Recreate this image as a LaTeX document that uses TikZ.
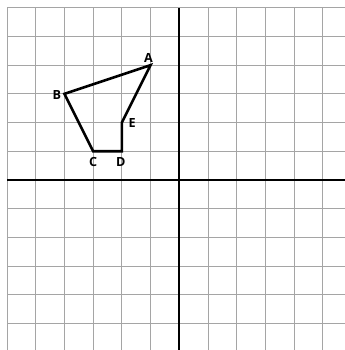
\documentclass[tikz,border=0pt]{standalone}
\usepackage{fontspec}
\setsansfont{Open Sans}
\usetikzlibrary{positioning}
\definecolor{cGrid}{RGB}{165,165,165}
\tikzset{
	gridline/.style ={draw=cGrid, line width=0.7pt},
	axisline/.style ={draw=black, line width=1.6pt},
	polyline/.style ={draw=black, line width=2.6pt, line join=miter},
	ptlabel/.style  ={inner sep=1.5pt, font=\fontsize{12.5}{14}\selectfont\sffamily\bfseries},
}
\begin{document}
\begin{tikzpicture}
			\useasboundingbox (-6.245,-5.925) rectangle (5.775,6.27);
			% grid and axes
			\foreach \k in {-6,...,5} {
				\draw[gridline] (\k,6) -- (\k,-5.925);
			}
			\foreach \k in {-5,...,6} {
				\draw[gridline] (-6,\k) -- (5.775,\k);
			}
			\draw[axisline] (-6,0) -- (5.775,0);
			\draw[axisline] (0,6) -- (0,-5.925);
			% vertices of the polygon
			\coordinate (A) at (-1,4);
			\coordinate (B) at (-4,3);
			\coordinate (C) at (-3,1);
			\coordinate (D) at (-2,1);
			\coordinate (E) at (-2,2);
			\draw[polyline] (A) -- (B) -- (C) -- (D) -- (E) -- cycle;
			\node[ptlabel, above=0.8pt of A, xshift=-2pt] (lA) {A};
			\node[ptlabel, left=1.5pt of B, yshift=-1pt] (lB) {B};
			\node[ptlabel, below=4.5pt of C] (lC) {C};
			\node[ptlabel, below=4.5pt of D, xshift=-1pt] (lD) {D};
			\node[ptlabel, right=5pt of E] (lE) {E};
		\end{tikzpicture}
\end{document}
